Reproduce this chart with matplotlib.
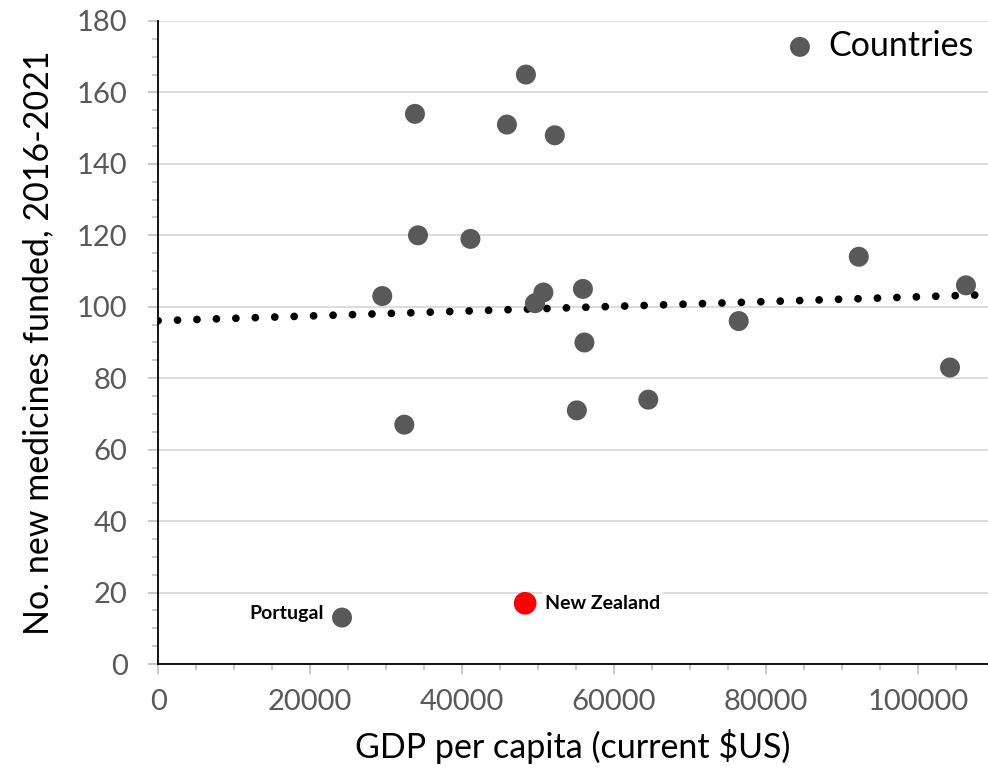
import matplotlib
matplotlib.use("Agg")
import matplotlib.pyplot as plt
from matplotlib.ticker import MultipleLocator
import numpy as np

plt.rcParams['font.family'] = ['Lato', 'DejaVu Sans']

# Data
gdp = [33800, 48400, 45900, 52200, 34200, 41100, 29500, 50700, 49600, 55900,
       76400, 92200, 106300, 56100, 55100, 64500, 104200, 32400, 24200]
funded = [154, 165, 151, 148, 120, 119, 103, 104, 101, 105,
          96, 114, 106, 90, 71, 74, 83, 67, 13]
nz_gdp = [48300]
nz_funded = [17]
label_names = ["Portugal", "New Zealand"]
trend_x = [0, 109200]
trend_y = [96.1, 103.4]

fig = plt.figure(figsize=(9.88, 7.74), dpi=100)
ax = fig.add_axes([0.160, 0.1421, 0.840, 0.8308])

grey_pt = "#595959"
ax.set_xlim(0, 109200)
ax.set_ylim(0, 180)

ax.yaxis.set_major_locator(MultipleLocator(20))
ax.yaxis.set_minor_locator(MultipleLocator(5))
ax.xaxis.set_major_locator(MultipleLocator(20000))
ax.xaxis.set_minor_locator(MultipleLocator(5000))

ax.grid(axis='y', which='major', color='#d9d9d9', linewidth=1.3, zorder=0)
ax.set_axisbelow(True)

for s in ['top', 'right']:
    ax.spines[s].set_visible(False)
for s in ['left', 'bottom']:
    ax.spines[s].set_color('black')
    ax.spines[s].set_linewidth(1.3)

ax.tick_params(which='major', direction='out', length=7, width=1.2, color='#bfbfbf',
               labelsize=21, labelcolor=grey_pt)
ax.tick_params(which='minor', direction='out', length=4.5, width=1.2, color='#bfbfbf')
ax.tick_params(axis='y', which='major', pad=15)
ax.tick_params(axis='x', which='major', pad=11)

# trend line (dotted)
ax.plot(trend_x, trend_y, color='black', linewidth=5.6,
        linestyle=(0, (0.001, 2.5)), dash_capstyle='round', zorder=2)

ax.scatter(gdp, funded, s=207, color=grey_pt, edgecolors='none', zorder=3, label='Countries')
ax.scatter(nz_gdp, nz_funded, s=266, color='#ff0000', edgecolors='none', zorder=4)

ax.annotate(label_names[0], xy=(gdp[-1], funded[-1]), xytext=(-13, 3),
            textcoords='offset points', ha='right', va='center',
            fontsize=14, fontweight='bold', color='black')
ax.annotate(label_names[1], xy=(nz_gdp[0], nz_funded[0]), xytext=(14, 0),
            textcoords='offset points', ha='left', va='center',
            fontsize=14, fontweight='bold', color='black',
            bbox=dict(facecolor='white', edgecolor='none', pad=2))

ax.set_xlabel("GDP per capita (current $US)", fontsize=24.5, color='black', labelpad=10)
ax.set_ylabel("No. new medicines funded, 2016-2021", fontsize=24.5, color='black', labelpad=16)

leg = ax.legend(loc='upper right', bbox_to_anchor=(1.008, 1.018), frameon=False,
                fontsize=24.5, handletextpad=0.25, borderaxespad=0.2, markerscale=1.0,
                handlelength=1.2)

fig.savefig("out.png", dpi=100)
